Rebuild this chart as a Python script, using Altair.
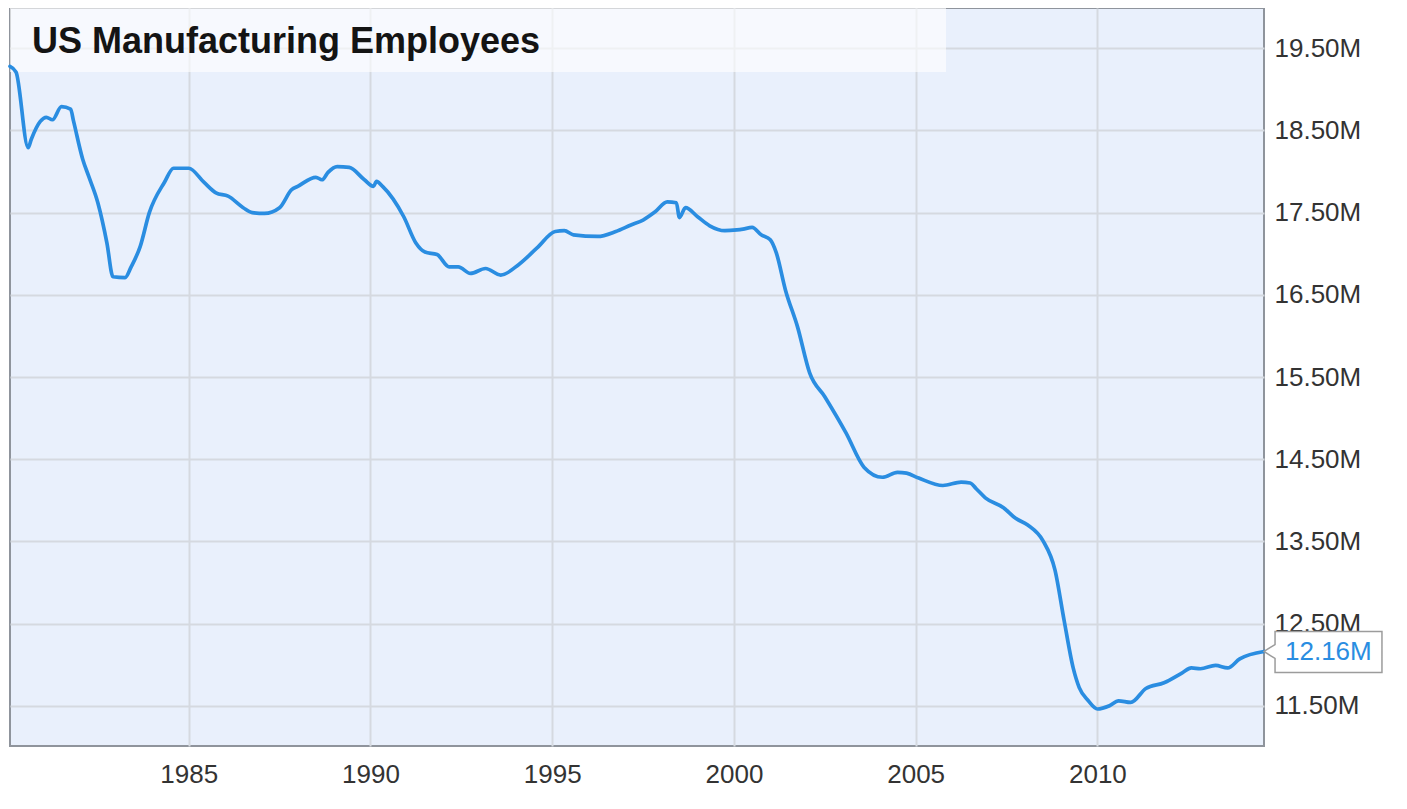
import altair as alt
import pandas as pd

# ---- data ----
dates = [
    "1980-02", "1980-04", "1980-08", "1980-09", "1980-12", "1981-02", "1981-04",
    "1981-07", "1981-10", "1981-11", "1982-02", "1982-04", "1982-07", "1982-10",
    "1982-12", "1983-04", "1983-06", "1983-09", "1983-12", "1984-05", "1984-08",
    "1985-01", "1985-06", "1985-10", "1986-02", "1986-07", "1986-10", "1987-02",
    "1987-07", "1987-11", "1988-01", "1988-07", "1988-09", "1988-11", "1989-02",
    "1989-06", "1989-11", "1990-02", "1990-03", "1990-05", "1990-12", "1991-04",
    "1991-07", "1991-11", "1992-03", "1992-06", "1992-10", "1993-03", "1993-08",
    "1994-02", "1994-08", "1995-02", "1995-05", "1995-08", "1996-04", "1996-10",
    "1997-03", "1997-07", "1997-11", "1998-03", "1998-06", "1998-07", "1998-09",
    "1999-01", "1999-05", "1999-10", "2000-02", "2000-04", "2000-07", "2000-10",
    "2001-01", "2001-03", "2001-06", "2001-10", "2002-02", "2002-07", "2003-02",
    "2003-08", "2004-02", "2004-07", "2004-10", "2005-02", "2005-10", "2006-04",
    "2006-07", "2006-09", "2006-12", "2007-06", "2007-10", "2008-02", "2008-07",
    "2008-11", "2009-02", "2009-05", "2009-07", "2009-10", "2010-01", "2010-05",
    "2010-08", "2010-12", "2011-05", "2011-11", "2012-05", "2012-08", "2012-11",
    "2013-04", "2013-08", "2013-12", "2014-08",
]
employees_m = [
    19.28, 19.21, 18.29, 18.39, 18.61, 18.66, 18.63,
    18.79, 18.76, 18.61, 18.15, 17.94, 17.62, 17.13,
    16.72, 16.71, 16.84, 17.09, 17.50, 17.87, 18.04,
    18.04, 17.87, 17.74, 17.70, 17.56, 17.50, 17.49,
    17.56, 17.78, 17.82, 17.93, 17.90, 17.99, 18.06,
    18.05, 17.90, 17.82, 17.88, 17.82, 17.45, 17.13,
    17.02, 16.99, 16.84, 16.84, 16.76, 16.82, 16.74,
    16.87, 17.07, 17.27, 17.28, 17.23, 17.21, 17.27,
    17.35, 17.41, 17.51, 17.63, 17.62, 17.44, 17.56,
    17.45, 17.34, 17.28, 17.29, 17.30, 17.32, 17.23,
    17.17, 17.01, 16.56, 16.11, 15.55, 15.26, 14.82,
    14.40, 14.28, 14.34, 14.33, 14.27, 14.18, 14.22,
    14.21, 14.14, 14.03, 13.91, 13.78, 13.70, 13.51,
    13.15, 12.54, 11.96, 11.72, 11.56, 11.46, 11.50,
    11.56, 11.54, 11.71, 11.78, 11.90, 11.96, 11.95,
    11.99, 11.96, 12.07, 12.16,
]
title_text = ["US Manufacturing Employees"]
x_tick_years = [1985, 1990, 1995, 2000, 2005, 2010]
y_tick_values = [11.5, 12.5, 13.5, 14.5, 15.5, 16.5, 17.5, 18.5, 19.5]
y_domain = [11.01, 19.99]


def frac_year(s):
    y, m = s.split("-")
    return int(y) + (int(m) - 1) / 12.0


df = pd.DataFrame({"date": dates, "employees": employees_m})
df["year"] = [frac_year(d) for d in dates]
last_df = df.tail(1).copy()
title_df = pd.DataFrame({"label": title_text})

LINE_BLUE = "#2a8de1"
W, H = 1254, 738

x_enc = alt.X(
    "year:Q",
    scale=alt.Scale(domain=[df["year"].min(), df["year"].max()], nice=False, zero=False),
    axis=alt.Axis(values=x_tick_years, format="d", title=None, labelPadding=15,
                  labelFontSize=26, ticks=False, domain=False, labelFlush=False),
)
y_enc = alt.Y(
    "employees:Q",
    scale=alt.Scale(domain=y_domain, nice=False, zero=False),
    axis=alt.Axis(orient="right", values=y_tick_values, title=None, labelPadding=10,
                  labelFontSize=26, ticks=False, domain=False,
                  labelExpr="format(datum.value, '.2f') + 'M'"),
)

title_box = alt.Chart(title_df).mark_rect(fill="white", opacity=0.62).encode(
    x=alt.value(0), x2=alt.value(936), y=alt.value(0), y2=alt.value(64)
)

line = alt.Chart(df).mark_line(color=LINE_BLUE, strokeWidth=3.7, strokeJoin="round",
                               strokeCap="round", interpolate="monotone").encode(x=x_enc, y=y_enc)

title_mark = alt.Chart(title_df).mark_text(
    align="left", baseline="alphabetic", font="Liberation Sans", fontWeight="bold",
    fontSize=36, color="#141414"
).encode(x=alt.value(22), y=alt.value(45), text="label:N")

CALLOUT = ("M0,0 L0.092,-0.058 L0.092,-0.167 L0.983,-0.167 L0.983,0.175 "
           "L0.092,0.175 L0.092,0.058 Z")
callout_box = alt.Chart(last_df).mark_point(
    shape=CALLOUT, size=57600, filled=True, fill="white", stroke="#9c9c9c",
    strokeWidth=1.5, opacity=1
).encode(x=x_enc, y=y_enc)

callout_text = alt.Chart(last_df).transform_calculate(
    lbl="format(datum.employees, '.2f') + 'M'"
).mark_text(
    align="left", baseline="middle", dx=21, dy=1, fontSize=26, color=LINE_BLUE,
    font="Liberation Sans"
).encode(x=x_enc, y=y_enc, text="lbl:N")

chart = alt.layer(title_box, line, title_mark, callout_box, callout_text).properties(
    width=W, height=H, padding=0
).configure(
    font="Liberation Sans"
).configure_view(
    fill="#e9f0fc", stroke="#8f949c", strokeWidth=2
).configure_axis(
    gridColor="#d5d9e0", gridWidth=2, labelColor="#333333", labelFont="Liberation Sans"
)

chart.save("out.html", embed_options={"renderer": "svg", "actions": False})
